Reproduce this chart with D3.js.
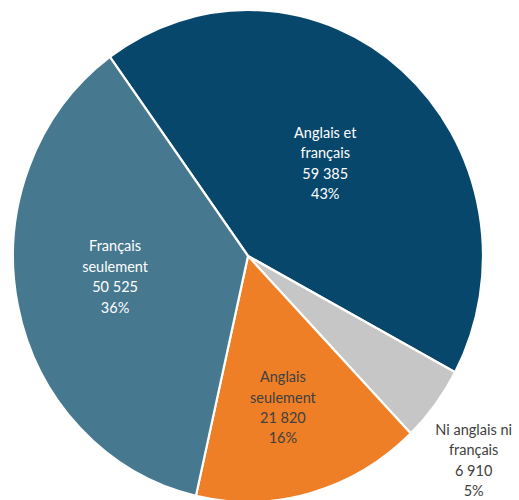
<!DOCTYPE html>
<html>
<head>
<meta charset="utf-8">
<script src="https://cdn.jsdelivr.net/npm/d3@7"></script>
<style>
  html, body { margin: 0; padding: 0; background: #ffffff; }
  svg { display: block; }
  text { font-family: Lato, "Open Sans", sans-serif; }
</style>
</head>
<body>
<svg id="chart" width="519" height="500"></svg>
<script>
// ---- data ----
const categories = ["Anglais et français", "Ni anglais ni français", "Anglais seulement", "Français seulement"];
const labelLines = [["Anglais et", "français"], ["Ni anglais ni", "français"], ["Anglais", "seulement"], ["Français", "seulement"]];
const values = [59385, 6910, 21820, 50525];
const valueLabels = ["59 385", "6 910", "21 820", "50 525"];
const percentLabels = ["43%", "5%", "16%", "36%"];

// ---- styling ----
const colors = ["#08476c", "#c6c6c6", "#ee7f26", "#46788f"];
const textColors = ["#ffffff", "#404040", "#404040", "#ffffff"];
const labelRadius = [0.50, 1.27, 0.635, 0.572];   // fraction of radius
const labelAngleShift = [0, 3.7, 2, 3];          // degrees

const W = 519, H = 500;
const cx = 248, cy = 256, rx = 235, ry = 246;
const sy = ry / rx;

const svg = d3.select("#chart");
const pie = d3.pie().value(d => d).sort(null)
  .startAngle(-36 * Math.PI / 180)
  .endAngle((360 - 36) * Math.PI / 180);
const arcs = pie(values);
const arc = d3.arc().innerRadius(0).outerRadius(rx);

const g = svg.append("g").attr("transform", `translate(${cx},${cy}) scale(1,${sy})`);
g.selectAll("path").data(arcs).enter().append("path")
  .attr("d", arc)
  .attr("fill", (d, i) => colors[i])
  .attr("stroke", "#ffffff")
  .attr("stroke-width", 2.2)
  .attr("vector-effect", "non-scaling-stroke")
  .attr("stroke-linejoin", "round");

const lineH = 20.4;
const labels = svg.append("g");
arcs.forEach((d, i) => {
  const a = (d.startAngle + d.endAngle) / 2 + labelAngleShift[i] * Math.PI / 180;
  const r = rx * labelRadius[i];
  const x = cx + r * Math.sin(a);
  const y = cy - r * Math.cos(a) * sy;
  const lines = labelLines[i].concat([valueLabels[i], percentLabels[i]]);
  const firstBase = y + 5 - lineH * (lines.length - 1) / 2;
  const t = labels.append("text")
    .attr("text-anchor", "middle")
    .attr("fill", textColors[i])
    .attr("font-size", 14.5);
  lines.forEach((ln, k) => {
    t.append("tspan").attr("x", x).attr("y", firstBase + k * lineH).text(ln);
  });
});
</script>
</body>
</html>
